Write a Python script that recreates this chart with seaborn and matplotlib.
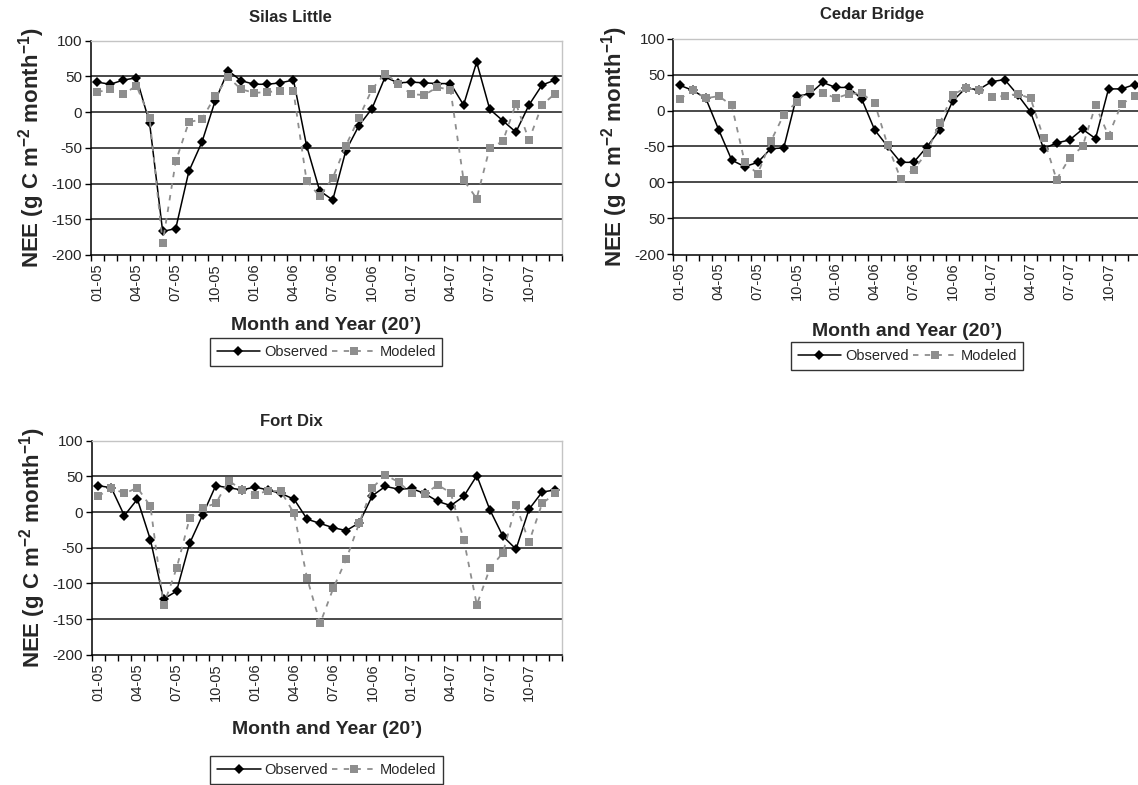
import numpy as np
import pandas as pd
import matplotlib
matplotlib.use("Agg")
import matplotlib.pyplot as plt
from matplotlib.lines import Line2D
import seaborn as sns

# Monthly NEE (g C m-2 month-1), Jan 2005 - Dec 2007
silas_obs = [42, 39, 45, 48, -15, -167, -163, -83, -42, 15, 58, 44,
             39, 39, 41, 45, -47, -110, -123, -54, -19, 5, 49, 41,
             42, 41, 40, 40, 10, 70, 4, -12, -28, 10, 38, 45]
silas_mod = [28, 32, 25, 37, -8, -183, -69, -14, -10, 22, 49, 32,
             27, 28, 30, 29, -96, -118, -92, -47, -8, 32, 54, 40,
             25, 24, 35, 31, -95, -121, -50, -41, 12, -39, 10, 26]

cedar_obs = [35, 28, 17, -27, -69, -78, -72, -53, -52, 20, 23, 39,
             32, 32, 16, -27, -50, -72, -72, -51, -27, 13, 31, 29,
             40, 43, 22, -2, -53, -45, -41, -26, -39, 30, 30, 36]
cedar_mod = [16, 28, 17, 20, 7, -72, -88, -43, -6, 12, 30, 25,
             17, 23, 24, 10, -48, -95, -82, -59, -18, 22, 31, 29,
             19, 20, 23, 17, -38, -96, -66, -50, 7, -35, 9, 20]

fort_obs = [37, 34, -5, 18, -39, -122, -111, -44, -4, 37, 34, 31,
            35, 31, 26, 18, -10, -16, -22, -26, -15, 23, 36, 32,
            33, 26, 15, 9, 22, 51, 3, -34, -52, 4, 28, 31]
fort_mod = [22, 34, 26, 34, 8, -131, -79, -9, 6, 12, 44, 31,
            24, 30, 29, -2, -93, -156, -107, -66, -15, 34, 52, 42,
            26, 25, 38, 27, -39, -130, -79, -57, 10, -42, 12, 26]

month_ticks = ["01-05", "04-05", "07-05", "10-05",
               "01-06", "04-06", "07-06", "10-06",
               "01-07", "04-07", "07-07", "10-07"]
y_ticks = [-200, -150, -100, -50, 0, 50, 100]
y_labels = ["-200", "-150", "-100", "-50", "0", "50", "100"]
cedar_y_labels = ["-200", "50", "00", "-50", "0", "50", "100"]

series_names = ["Observed", "Modeled"]

sns.set_theme(style="white")
plt.rcParams["font.family"] = ["Liberation Sans", "DejaVu Sans"]
plt.rcParams["mathtext.fontset"] = "custom"
plt.rcParams["mathtext.rm"] = "Liberation Sans:bold"
plt.rcParams["mathtext.it"] = "Liberation Sans:bold"
plt.rcParams["mathtext.bf"] = "Liberation Sans:bold"

W, H = 1138, 785
fig = plt.figure(figsize=(W / 100, H / 100), dpi=100)
fig.patch.set_facecolor("white")

OBS_C = "black"
MOD_C = "#8e8e8e"
palette = {"Observed": OBS_C, "Modeled": MOD_C}
dashes = {"Observed": "", "Modeled": (3, 3.5)}
markers = {"Observed": "D", "Modeled": "s"}


def px_axes(left, top, right, bottom):
    return fig.add_axes([left / W, 1 - bottom / H, (right - left) / W, (bottom - top) / H])


def panel(ax, obs, mod, title, title_xy, ylabels, xlabel_y, legend_y, ylab_x):
    n = len(obs)
    idx = np.arange(n)
    df = pd.DataFrame({
        "month": np.concatenate([idx, idx]),
        "NEE": np.concatenate([obs, mod]),
        "Series": ["Observed"] * n + ["Modeled"] * n,
    })
    sns.lineplot(data=df, x="month", y="NEE", hue="Series", style="Series",
                 hue_order=series_names, style_order=series_names,
                 palette=palette, dashes=dashes, markers=markers,
                 markersize=5.2, markeredgewidth=0, linewidth=1.1,
                 legend=False, ax=ax)
    for ln in ax.get_lines():
        if ln.get_linestyle() != "-":
            ln.set_zorder(4)
            ln.set_linewidth(1.3)
        else:
            ln.set_zorder(3)

    ax.set_xlim(-0.5, n - 0.5)
    ax.set_ylim(-200, 100)
    ax.set_facecolor("white")

    # horizontal gridlines
    for v in (50, 0, -50, -100, -150):
        ax.axhline(v, color="#3a3a3a", lw=1.3, zorder=1)

    ax.set_yticks(y_ticks)
    ax.set_yticklabels(ylabels, fontsize=11)
    ax.set_xticks(np.arange(0, n, 3))
    ax.set_xticklabels(month_ticks, rotation=90, fontsize=10.5)
    ax.set_xticks(np.arange(-0.5, n, 1), minor=True)
    ax.tick_params(axis="x", which="major", length=0, pad=6)
    ax.tick_params(axis="x", which="minor", length=4, width=1, color="black",
                   direction="out", bottom=True)
    ax.tick_params(axis="y", length=4, width=1, color="black", direction="out",
                   left=True, pad=2)
    ax.set_xlabel("")
    ax.set_ylabel("")

    for side in ("left", "bottom"):
        ax.spines[side].set_color("black")
        ax.spines[side].set_linewidth(1.1)
    for side in ("top", "right"):
        ax.spines[side].set_color("#c4c4c4")
        ax.spines[side].set_linewidth(1.0)

    bb = ax.get_position()
    cx = (bb.x0 + bb.x1) / 2
    cy = (bb.y0 + bb.y1) / 2

    fig.text(title_xy[0] / W, 1 - title_xy[1] / H, title, ha="center", va="center",
             fontsize=12, fontweight="bold")
    fig.text(ylab_x / W, cy, r"NEE (g C m$^{\mathrm{-2}}$ month$^{\mathrm{-1}}$)",
             rotation=90, ha="center", va="center", fontsize=16, fontweight="bold")
    fig.text(cx, 1 - xlabel_y / H, "Month and Year (20\u2019)", ha="center", va="center",
             fontsize=14, fontweight="bold")

    handles = [
        Line2D([], [], color=OBS_C, lw=1.1, marker="D", markersize=5.2, markeredgewidth=0),
        Line2D([], [], color=MOD_C, lw=1.3, ls=(0, (3, 3.5)), marker="s", markersize=5.2,
               markeredgewidth=0),
    ]
    leg = fig.legend(handles, series_names, loc="center", bbox_to_anchor=(cx, 1 - legend_y / H),
                     ncol=2, frameon=True, fancybox=False, edgecolor="black",
                     fontsize=10.5, handlelength=3.0, handletextpad=0.25, columnspacing=0.3,
                     borderpad=0.45, numpoints=1)
    leg.get_frame().set_linewidth(1.0)


ax1 = px_axes(90.7, 40.7, 561.7, 255.0)
panel(ax1, silas_obs, silas_mod, "Silas Little", (290, 17), y_labels, 325, 352, 32)

ax2 = px_axes(673.3, 38.5, 1141.0, 254.5)
panel(ax2, cedar_obs, cedar_mod, "Cedar Bridge", (872, 15), cedar_y_labels, 332, 356, 615)

ax3 = px_axes(91.7, 440.7, 561.7, 654.7)
panel(ax3, fort_obs, fort_mod, "Fort Dix", (291, 421), y_labels, 730, 770, 33)

fig.savefig("out.png", dpi=100, facecolor="white")
